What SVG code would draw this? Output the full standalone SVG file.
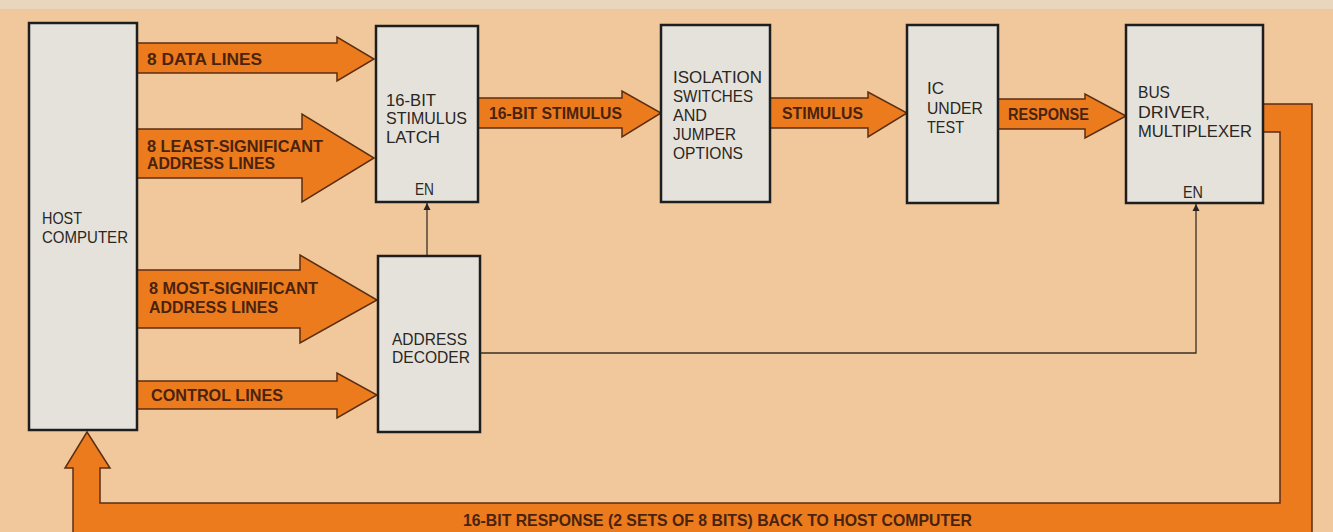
<svg xmlns="http://www.w3.org/2000/svg" width="1333" height="532" viewBox="0 0 1333 532">
<style>
.box{fill:#e5e2db;stroke:#1e1e1e;stroke-width:2.5}
.bus{fill:#ec7b1e;stroke:#5a2e12;stroke-width:1.5;stroke-linejoin:miter}
.bt{font-family:"Liberation Sans",Arial,sans-serif;font-size:16.5px;fill:#2a2622}
.at{font-family:"Liberation Sans",Arial,sans-serif;font-size:16.5px;font-weight:bold;fill:#4a230e}
.thin{fill:none;stroke:#3a3026;stroke-width:1.3}
</style>
<defs>
<marker id="ah" viewBox="0 0 10 10" refX="10" refY="5" markerWidth="7" markerHeight="8" orient="auto" markerUnits="userSpaceOnUse">
<path d="M0,0 L10,5 L0,10 Z" fill="#2a2420"/>
</marker>
</defs>
<rect x="0" y="0" width="1333" height="532" fill="#f1c79c"/>
<rect x="0" y="0" width="1333" height="9" fill="#ead6bc"/>
<g id="connectors">
<path class="bus" d="M137,43 H337 V37 L374,59 L337,81 V73 H137 Z"/>
<path class="bus" d="M137,129 H302 V114 L374,158 L302,202 V178 H137 Z"/>
<path class="bus" d="M137,270 H300 V255 L377,300 L300,343 V328 H137 Z"/>
<path class="bus" d="M137,381 H337 V373 L377,395 L337,418 V409 H137 Z"/>
<path class="bus" d="M478,98 H622 V91 L661,113 L622,137 V128 H478 Z"/>
<path class="bus" d="M770,98 H868 V92 L907,113 L868,137 V128 H770 Z"/>
<path class="bus" d="M998,99 H1085 V94 L1126,116 L1085,138 V129 H998 Z"/>
<path class="bus" d="M1263,104 H1312 V537 H73 V468 H65 L87,432 L110,468 H100 V503 H1280 V132 H1263 Z"/>
<path class="thin" d="M427,256 V203" marker-end="url(#ah)"/>
<path class="thin" d="M480,353 H1196 V204" marker-end="url(#ah)"/>
<text class="at" x="147" y="65" textLength="115" lengthAdjust="spacingAndGlyphs">8 DATA LINES</text>
<text class="at" x="147" y="152" textLength="176" lengthAdjust="spacingAndGlyphs">8 LEAST-SIGNIFICANT</text>
<text class="at" x="147" y="169" textLength="128" lengthAdjust="spacingAndGlyphs">ADDRESS LINES</text>
<text class="at" x="149" y="294" textLength="169" lengthAdjust="spacingAndGlyphs">8 MOST-SIGNIFICANT</text>
<text class="at" x="149" y="313" textLength="129" lengthAdjust="spacingAndGlyphs">ADDRESS LINES</text>
<text class="at" x="151" y="401" textLength="132" lengthAdjust="spacingAndGlyphs">CONTROL LINES</text>
<text class="at" x="489" y="119" textLength="133" lengthAdjust="spacingAndGlyphs">16-BIT STIMULUS</text>
<text class="at" x="782" y="119" textLength="81" lengthAdjust="spacingAndGlyphs">STIMULUS</text>
<text class="at" x="1008" y="120" textLength="81" lengthAdjust="spacingAndGlyphs">RESPONSE</text>
<text class="at" x="463" y="526" textLength="509" lengthAdjust="spacingAndGlyphs">16-BIT RESPONSE (2 SETS OF 8 BITS) BACK TO HOST COMPUTER</text>
</g>
<g id="host">
<rect class="box" x="29" y="23" width="108" height="407"/>
<text class="bt" x="42" y="224" textLength="40" lengthAdjust="spacingAndGlyphs">HOST</text>
<text class="bt" x="42" y="243" textLength="86" lengthAdjust="spacingAndGlyphs">COMPUTER</text>
</g>
<g id="latch">
<rect class="box" x="376" y="26" width="102" height="176"/>
<text class="bt" x="386" y="106" textLength="50" lengthAdjust="spacingAndGlyphs">16-BIT</text>
<text class="bt" x="386" y="124" textLength="81" lengthAdjust="spacingAndGlyphs">STIMULUS</text>
<text class="bt" x="386" y="143" textLength="54" lengthAdjust="spacingAndGlyphs">LATCH</text>
<text class="bt" x="415" y="195" textLength="19" lengthAdjust="spacingAndGlyphs">EN</text>
</g>
<g id="decoder">
<rect class="box" x="378" y="256" width="102" height="176"/>
<text class="bt" x="392" y="345" textLength="75" lengthAdjust="spacingAndGlyphs">ADDRESS</text>
<text class="bt" x="392" y="363" textLength="78" lengthAdjust="spacingAndGlyphs">DECODER</text>
</g>
<g id="isolation">
<rect class="box" x="661" y="25" width="109" height="177"/>
<text class="bt" x="673" y="83" textLength="89" lengthAdjust="spacingAndGlyphs">ISOLATION</text>
<text class="bt" x="673" y="102" textLength="80" lengthAdjust="spacingAndGlyphs">SWITCHES</text>
<text class="bt" x="673" y="121" textLength="34" lengthAdjust="spacingAndGlyphs">AND</text>
<text class="bt" x="673" y="140" textLength="63" lengthAdjust="spacingAndGlyphs">JUMPER</text>
<text class="bt" x="673" y="159" textLength="70" lengthAdjust="spacingAndGlyphs">OPTIONS</text>
</g>
<g id="ic">
<rect class="box" x="907" y="25" width="91" height="178"/>
<text class="bt" x="927" y="94" textLength="17" lengthAdjust="spacingAndGlyphs">IC</text>
<text class="bt" x="927" y="114" textLength="56" lengthAdjust="spacingAndGlyphs">UNDER</text>
<text class="bt" x="927" y="133" textLength="37" lengthAdjust="spacingAndGlyphs">TEST</text>
</g>
<g id="busdriver">
<rect class="box" x="1126" y="25" width="137" height="178"/>
<text class="bt" x="1138" y="98" textLength="32" lengthAdjust="spacingAndGlyphs">BUS</text>
<text class="bt" x="1138" y="118" textLength="72" lengthAdjust="spacingAndGlyphs">DRIVER,</text>
<text class="bt" x="1138" y="137" textLength="114" lengthAdjust="spacingAndGlyphs">MULTIPLEXER</text>
<text class="bt" x="1183" y="198" textLength="20" lengthAdjust="spacingAndGlyphs">EN</text>
</g>
</svg>
